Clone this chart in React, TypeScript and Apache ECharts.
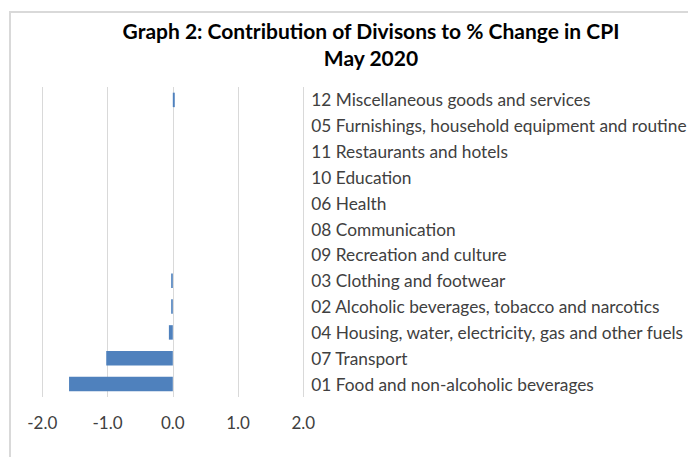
import React, { useEffect, useRef } from "react";
import * as echarts from "echarts";

const categories = [
  "01 Food and non-alcoholic beverages",
  "07 Transport",
  "04 Housing, water, electricity, gas and other fuels",
  "02 Alcoholic beverages, tobacco and narcotics",
  "03 Clothing and footwear",
  "09 Recreation and culture",
  "08 Communication",
  "06 Health",
  "10 Education",
  "11 Restaurants and hotels",
  "05 Furnishings, household equipment and routine",
  "12 Miscellaneous goods and services",
];

const contributions = [-1.59, -1.02, -0.06, -0.025, -0.025, 0, 0, 0, 0, 0, 0, 0.03];

const xTicks = { min: -2, max: 2, interval: 1 };

const titleLines = ["Graph 2: Contribution of Divisons to % Change in CPI", "May 2020"];

export default function App() {
  const ref = useRef<HTMLDivElement>(null);
  useEffect(() => {
    document.body.style.margin = "0";
    const chart = echarts.init(ref.current!, null, { renderer: "svg" });
    chart.setOption({
      animation: false,
      backgroundColor: "#ffffff",
      textStyle: { fontFamily: "Lato" },
      title: {
        text: titleLines.join("\n"),
        left: 366,
        top: 12,
        textAlign: "center",
        textStyle: {
          fontFamily: "Lato",
          fontSize: 21,
          fontWeight: "bold",
          color: "#000000",
          lineHeight: 27,
        },
      },
      graphic: [
        {
          type: "rect",
          shape: { x: 10, y: 12, width: 1000, height: 1000 },
          style: { fill: "none", stroke: "#d9d9d9", lineWidth: 2 },
          silent: true,
        },
      ],
      grid: {
        left: 42.3,
        right: 384.7,
        top: 87,
        bottom: 60,
        containLabel: false,
        outerBoundsMode: "none",
      },
      xAxis: {
        type: "value",
        min: xTicks.min,
        max: xTicks.max,
        interval: xTicks.interval,
        axisLine: { show: false },
        axisTick: { show: false },
        splitLine: { show: true, lineStyle: { color: "#d9d9d9", width: 1 } },
        axisLabel: {
          margin: 17,
          fontFamily: "Lato",
          fontSize: 17,
          color: "#404040",
          formatter: (v: number) => v.toFixed(1),
        },
      },
      yAxis: {
        type: "category",
        data: categories,
        position: "right",
        axisLine: { show: false },
        axisTick: { show: false },
        splitLine: { show: false },
        axisLabel: {
          align: "left",
          margin: 8,
          fontFamily: "Lato",
          fontSize: 17.3,
          color: "#404040",
        },
      },
      series: [
        {
          type: "bar",
          data: contributions,
          barWidth: "56%",
          itemStyle: { color: "#4f81bd" },
        },
      ],
    });
    return () => chart.dispose();
  }, []);
  return (
    <div
      ref={ref}
      style={{ position: "absolute", left: 0, top: 0, width: 688, height: 457 }}
    />
  );
}
